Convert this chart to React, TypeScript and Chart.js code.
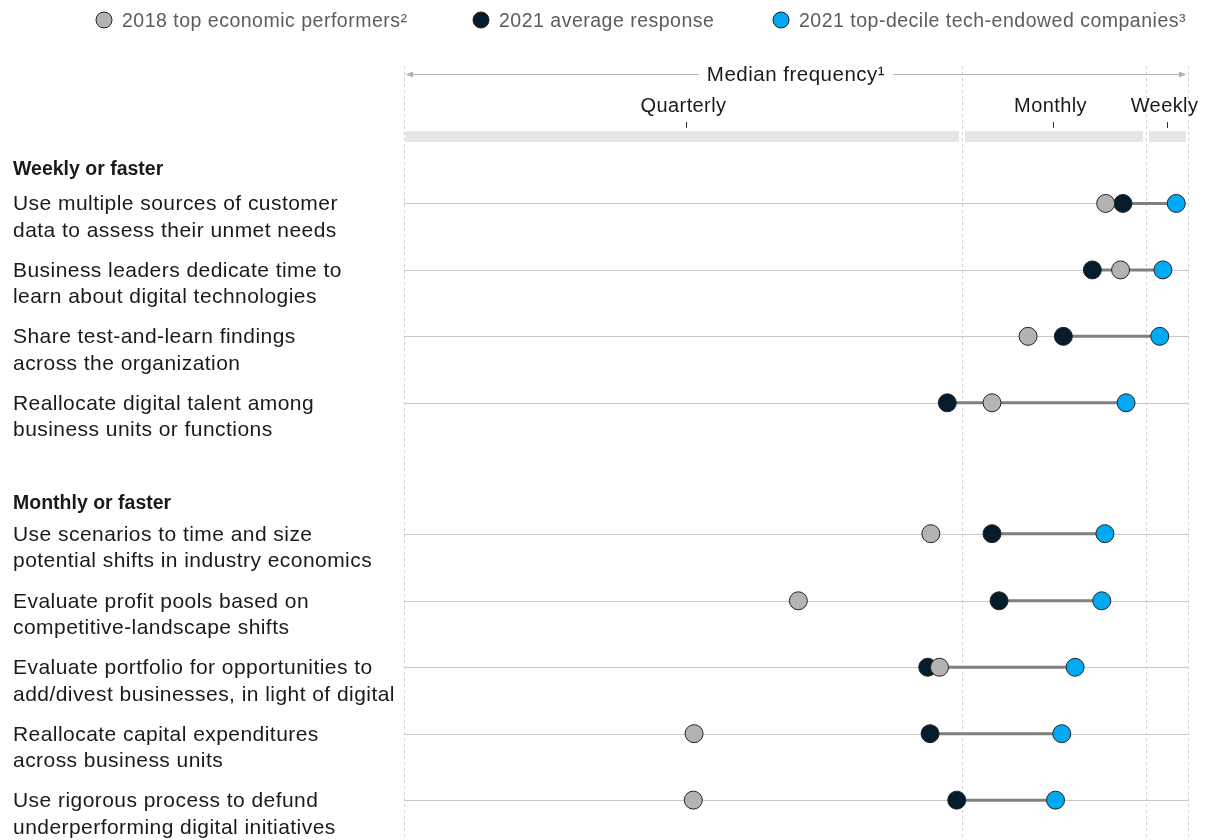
import React, { useEffect, useRef } from "react";
import { Chart, registerables } from "chart.js";

Chart.register(...registerables);

const rowLabels: string[][] = [
  ["Use multiple sources of customer", "data to assess their unmet needs"],
  ["Business leaders dedicate time to", "learn about digital technologies"],
  ["Share test-and-learn findings", "across the organization"],
  ["Reallocate digital talent among", "business units or functions"],
  ["Use scenarios to time and size", "potential shifts in industry economics"],
  ["Evaluate profit pools based on", "competitive-landscape shifts"],
  ["Evaluate portfolio for opportunities to", "add/divest businesses, in light of digital"],
  ["Reallocate capital expenditures", "across business units"],
  ["Use rigorous process to defund", "underperforming digital initiatives"],
];
const rowPositions = [1, 2, 3, 4, 5.97, 6.98, 7.98, 8.98, 9.98];
const groupHeaders = ["Weekly or faster", "Monthly or faster"];
const groupHeaderPositions = [0.46, 5.5];

const topPerformers2018 = [89.5, 91.4, 79.6, 75.0, 67.2, 50.3, 68.3, 37.0, 36.9];
const average2021 = [91.7, 87.8, 84.1, 69.3, 75.0, 75.9, 66.8, 67.1, 70.5];
const topDecile2021 = [98.5, 96.8, 96.4, 92.1, 89.4, 89.0, 85.6, 83.9, 83.1];

const seriesNames = [
  "2018 top economic performers²",
  "2021 average response",
  "2021 top-decile tech-endowed companies³",
];
const seriesColors = ["#b3b3b3", "#051c2c", "#00a9f4"];

const axisTitle = "Median frequency¹";
const tickLabels = ["Quarterly", "Monthly", "Weekly"];
const tickValues = [35.97, 82.78, 97.32];
const bandBreaks = [0, 71.17, 94.64, 100];

const FONT = "'Liberation Sans', Arial, sans-serif";

function setSpacing(ctx: any, s: number) {
  if ("letterSpacing" in ctx) ctx.letterSpacing = `${s}px`;
}

const decorPlugin = {
  id: "decor",
  beforeDatasetsDraw(chart: any) {
    const { ctx, chartArea } = chart;
    const x = chart.scales.x;
    const y = chart.scales.y;
    const px = (v: number) => x.getPixelForValue(v);
    ctx.save();

    // dashed vertical separators
    ctx.strokeStyle = "#d0d0d0";
    ctx.lineWidth = 1;
    ctx.setLineDash([3, 3]);
    for (const v of bandBreaks) {
      const p = Math.round(px(v)) + 0.5;
      ctx.beginPath();
      ctx.moveTo(p, 66);
      ctx.lineTo(p, 840);
      ctx.stroke();
    }
    ctx.setLineDash([]);

    // gray band
    ctx.fillStyle = "#e6e6e6";
    for (let i = 0; i < bandBreaks.length - 1; i++) {
      const a = px(bandBreaks[i]) + (i === 0 ? 1.5 : 3);
      const b = px(bandBreaks[i + 1]) - (i === bandBreaks.length - 2 ? 2 : 3);
      ctx.fillRect(a, 131, b - a, 11);
    }

    // ticks and tick labels
    ctx.strokeStyle = "#333";
    ctx.fillStyle = "#1a1a1a";
    ctx.font = `20px ${FONT}`;
    setSpacing(ctx, 0.4);
    ctx.textAlign = "center";
    ctx.textBaseline = "alphabetic";
    tickValues.forEach((v, i) => {
      const p = Math.round(px(v)) + 0.5;
      ctx.beginPath();
      ctx.moveTo(p, 122);
      ctx.lineTo(p, 128);
      ctx.stroke();
      ctx.fillText(tickLabels[i], p - 3, 112);
    });

    // axis title with arrows
    const mid = (chartArea.left + chartArea.right) / 2;
    ctx.font = `20.5px ${FONT}`;
    setSpacing(ctx, 0.5);
    const tw = ctx.measureText(axisTitle).width;
    ctx.fillText(axisTitle, mid, 81);
    setSpacing(ctx, 0);
    ctx.strokeStyle = "#b0b0b0";
    ctx.fillStyle = "#b0b0b0";
    const ay = 74.5;
    const l0 = chartArea.left + 2;
    const l1 = mid - tw / 2 - 8;
    const r0 = mid + tw / 2 + 8;
    const r1 = chartArea.right - 2;
    ctx.beginPath();
    ctx.moveTo(l0, ay);
    ctx.lineTo(l1, ay);
    ctx.moveTo(r0, ay);
    ctx.lineTo(r1, ay);
    ctx.stroke();
    ctx.beginPath();
    ctx.moveTo(l0, ay);
    ctx.lineTo(l0 + 7, ay - 3);
    ctx.lineTo(l0 + 7, ay + 3);
    ctx.closePath();
    ctx.fill();
    ctx.beginPath();
    ctx.moveTo(r1, ay);
    ctx.lineTo(r1 - 7, ay - 3);
    ctx.lineTo(r1 - 7, ay + 3);
    ctx.closePath();
    ctx.fill();

    // row lines
    ctx.strokeStyle = "#c8c8c8";
    ctx.lineWidth = 1;
    for (const r of rowPositions) {
      const py = Math.round(y.getPixelForValue(r)) + 0.5;
      ctx.beginPath();
      ctx.moveTo(chartArea.left, py);
      ctx.lineTo(chartArea.right, py);
      ctx.stroke();
    }

    // row labels
    ctx.textAlign = "left";
    ctx.fillStyle = "#1a1a1a";
    ctx.font = `21px ${FONT}`;
    setSpacing(ctx, 0.45);
    rowLabels.forEach((lines, i) => {
      const py = y.getPixelForValue(rowPositions[i]);
      lines.forEach((t, j) => ctx.fillText(t, 13, py + 7 + j * 26.5));
    });
    ctx.font = `bold 19.5px ${FONT}`;
    setSpacing(ctx, 0);
    groupHeaders.forEach((t, i) => {
      const py = y.getPixelForValue(groupHeaderPositions[i]);
      ctx.fillText(t, 13, py + 7);
    });

    // legend
    const legendX = [104, 481, 781];
    ctx.font = `19.5px ${FONT}`;
    setSpacing(ctx, 0.5);
    seriesNames.forEach((name, i) => {
      ctx.beginPath();
      ctx.arc(legendX[i], 20, 8, 0, Math.PI * 2);
      ctx.fillStyle = seriesColors[i];
      ctx.fill();
      ctx.strokeStyle = "#222";
      ctx.lineWidth = 1;
      ctx.stroke();
      ctx.fillStyle = "#5c5c5c";
      ctx.fillText(name, legendX[i] + 18, 27);
    });
    setSpacing(ctx, 0);

    ctx.restore();
  },
};

export default function App() {
  const ref = useRef<HTMLCanvasElement | null>(null);
  useEffect(() => {
    document.body.style.margin = "0";
    if (!ref.current) return;
    const connector: any[] = [];
    average2021.forEach((v, i) => {
      connector.push({ x: v, y: rowPositions[i] });
      connector.push({ x: topDecile2021[i], y: rowPositions[i] });
      connector.push({ x: topDecile2021[i], y: null });
    });
    const dots = (vals: number[], color: string, label: string, order: number) => ({
      type: "scatter" as const,
      label,
      data: vals.map((v, i) => ({ x: v, y: rowPositions[i] })),
      backgroundColor: color,
      borderColor: "#222",
      borderWidth: 1,
      pointRadius: 9,
      pointHoverRadius: 9,
      clip: false as any,
      order,
    });
    const chart = new Chart(ref.current, {
      type: "scatter",
      data: {
        datasets: [
          {
            type: "line",
            label: "connector",
            data: connector,
            borderColor: "#808080",
            borderWidth: 3,
            pointRadius: 0,
            spanGaps: false,
            fill: false,
            order: 10,
          } as any,
          dots(average2021, seriesColors[1], seriesNames[1], 9),
          dots(topPerformers2018, seriesColors[0], seriesNames[0], 8),
          dots(topDecile2021, seriesColors[2], seriesNames[2], 7),
        ],
      },
      options: {
        animation: false,
        responsive: false,
        layout: { autoPadding: false, padding: { left: 404, right: 27, top: 137, bottom: 0 } },
        scales: {
          x: { type: "linear", min: 0, max: 100, display: false },
          y: { type: "linear", min: 0, max: 10.58, reverse: true, display: false },
        },
        plugins: { legend: { display: false }, tooltip: { enabled: false } },
      } as any,
      plugins: [decorPlugin],
    });
    return () => chart.destroy();
  }, []);
  return (
    <div style={{ width: 1215, height: 840 }}>
      <canvas ref={ref} width={1215} height={840} style={{ display: "block" }} />
    </div>
  );
}
